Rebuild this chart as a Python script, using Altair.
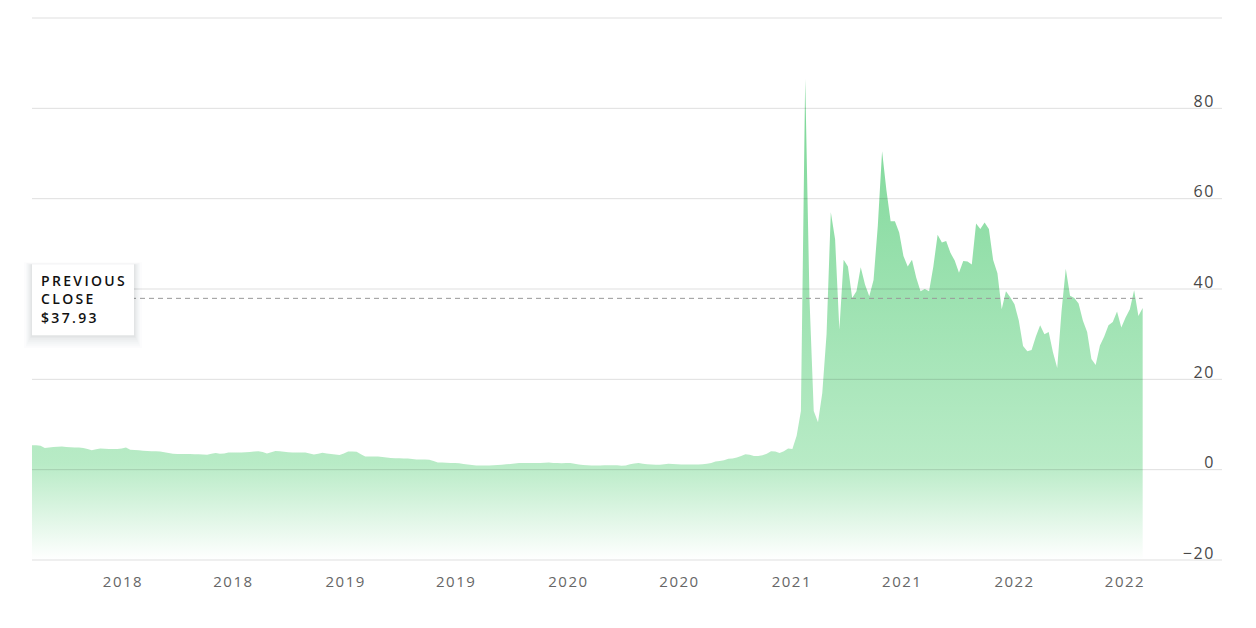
import altair as alt
import pandas as pd

# weekly closing values (split-adjusted $)
values = [
    5.4, 5.4, 5.3, 4.8, 4.9, 5.0, 5.1, 5.15, 5.0, 4.95,
    4.9, 4.9, 4.8, 4.6, 4.3, 4.5, 4.7, 4.65, 4.6, 4.6,
    4.6, 4.7, 4.9, 4.4, 4.35, 4.3, 4.2, 4.15, 4.1, 4.05,
    4.0, 3.85, 3.7, 3.55, 3.45, 3.45, 3.45, 3.45, 3.4, 3.4,
    3.35, 3.3, 3.5, 3.7, 3.5, 3.6, 3.8, 3.8, 3.8, 3.8,
    3.85, 3.9, 4.0, 4.1, 3.9, 3.6, 3.85, 4.15, 4.1, 3.95,
    3.85, 3.8, 3.8, 3.8, 3.8, 3.6, 3.35, 3.5, 3.75, 3.6,
    3.45, 3.35, 3.25, 3.6, 4.0, 4.0, 3.95, 3.4, 2.9, 2.9,
    2.9, 2.9, 2.8, 2.7, 2.6, 2.55, 2.55, 2.5, 2.5, 2.35,
    2.25, 2.25, 2.25, 2.2, 1.9, 1.6, 1.6, 1.55, 1.5, 1.5,
    1.4, 1.25, 1.15, 1.05, 0.95, 0.9, 0.9, 0.95, 1.0, 1.05,
    1.1, 1.2, 1.25, 1.35, 1.45, 1.5, 1.45, 1.45, 1.45, 1.5,
    1.55, 1.6, 1.5, 1.45, 1.4, 1.5, 1.45, 1.3, 1.15, 1.05,
    1.0, 0.95, 0.9, 0.95, 1.0, 1.0, 1.0, 1.0, 0.85, 0.9,
    1.2, 1.35, 1.45, 1.3, 1.2, 1.15, 1.1, 1.1, 1.2, 1.3,
    1.25, 1.2, 1.15, 1.15, 1.15, 1.15, 1.15, 1.2, 1.3, 1.5,
    1.8, 1.9, 2.1, 2.4, 2.5, 2.7, 3.0, 3.4, 3.3, 3.05,
    3.0, 3.2, 3.5, 4.1, 4.0, 3.7, 4.1, 4.7, 4.6, 7.5,
    13.0, 86.5, 38.0, 13.0, 10.5, 17.0, 30.0, 57.0, 51.0, 31.0,
    46.5, 45.0, 38.0, 39.5, 44.8, 41.0, 38.4, 42.0, 54.0, 70.5,
    62.0, 55.0, 55.0, 52.5, 47.3, 45.0, 46.5, 42.5, 39.5, 40.0,
    39.5, 45.0, 52.0, 50.3, 50.6, 48.0, 46.3, 43.6, 46.2, 46.1,
    45.4, 54.5, 53.3, 54.7, 53.3, 46.4, 43.5, 35.5, 39.5, 38.2,
    36.6, 33.0, 27.4, 26.2, 26.5, 29.5, 32.0, 30.0, 30.5, 26.0,
    22.5, 35.0, 44.5, 38.5, 38.0, 36.8, 33.0, 30.5, 24.5, 23.2,
    27.5, 29.5, 32.0, 32.7, 35.0, 31.5, 33.7, 35.5, 39.7, 34.0, 35.8,
]
dates = pd.date_range("2017-08-07", periods=len(values), freq="7D").strftime("%Y-%m-%d").tolist()

prev_close = 37.93
box_lines = ["PREVIOUS", "CLOSE", "$37.93"]
y_ticks = [-20, 0, 20, 40, 60, 80, 100]
x_tick_dates = ["2018-01-01", "2018-07-01", "2019-01-01", "2019-07-01", "2020-01-01",
                "2020-07-01", "2021-01-01", "2021-07-01", "2022-01-01", "2022-07-01"]
x_domain = ["2017-08-07", "2022-12-09"]

SP = "\u2009"   # thin space, used as letter spacing in the box
HSP = "\u200a"  # hair space, used as letter spacing in axis labels


def spaced(s):
    return SP.join(s)


def dt(s):
    y, m, d = (int(p) for p in s.split("-"))
    return alt.DateTime(year=y, month=m, date=d, utc=True)


df = pd.DataFrame({"date": dates, "price": values})
grid_df = pd.DataFrame({"price": y_ticks})

x_scale = alt.Scale(type="utc", domain=[dt(d) for d in x_domain])
y_scale = alt.Scale(domain=[-20, 100], nice=False, zero=False)

space_expr = "replace(datum.label, regexp('(.)(?=.)', 'g'), '$1" + HSP + "')"

x_axis = alt.Axis(
    values=[dt(d) for d in x_tick_dates], format="%Y", labelExpr=space_expr,
    grid=False, ticks=False, domain=False, labelPadding=14, title="",
    labelFont="Open Sans", labelFontSize=15, labelColor="#666666",
)
y_axis = alt.Axis(
    orient="right", values=y_ticks,
    labelExpr="datum.value == 100 ? '' : " + space_expr,
    grid=False, ticks=False, domain=False, tickSize=0, labelPadding=-9,
    labelAlign="right", labelBaseline="alphabetic", labelOffset=-2, title="",
    labelFont="Open Sans", labelFontSize=16, labelColor="#484848",
)

gradient = alt.Gradient(
    gradient="linear",
    stops=[
        alt.GradientStop(color="#79d695", offset=0),
        alt.GradientStop(color="#b8ebc6", offset=0.8),
        alt.GradientStop(color="#ffffff", offset=1),
    ],
    x1=1, x2=1, y1=0, y2=1,
)

area = alt.Chart(df).mark_area(color=gradient, interpolate="linear").encode(
    x=alt.X("date:T", scale=x_scale, axis=x_axis),
    y=alt.Y("price:Q", scale=y_scale, axis=y_axis),
    y2=alt.Y2(datum=-20),
)

grid = alt.Chart(grid_df).mark_rule(color="#000000", opacity=0.13, strokeWidth=1).encode(
    y=alt.Y("price:Q", scale=y_scale, axis=y_axis),
)

dashed = alt.Chart(df).mark_rule(color="#999999", strokeDash=[5, 4], strokeWidth=1).encode(
    x=alt.X("min(date):T"),
    x2=alt.X2("max(date)"),
    y=alt.Y(datum=prev_close),
)


def box_rect(color, opacity, x0, x1, y0, y1):
    return alt.Chart(df).mark_rect(
        color=color, opacity=opacity, xOffset=x0, x2Offset=x1, yOffset=y0, y2Offset=y1
    ).encode(
        x=alt.X("min(date):T"),
        x2=alt.X2("min(date)"),
        y=alt.Y(datum=prev_close),
        y2=alt.Y2(datum=prev_close),
    )


# soft drop shadow made of faint stacked rectangles, then the white card
shadows = [
    box_rect("#1a2030", 0.012, -8, 110, -36, 50),
    box_rect("#1a2030", 0.014, -6, 108, -35, 48),
    box_rect("#1a2030", 0.016, -5, 107, -35, 46),
    box_rect("#1a2030", 0.018, -4, 106, -34, 44),
    box_rect("#1a2030", 0.02, -3, 105, -34, 42),
    box_rect("#1a2030", 0.022, -2, 104, -34, 40),
    box_rect("#1a2030", 0.025, -1, 103, -34, 39),
]
box = box_rect("#ffffff", 1, 0, 102, -34, 37)


def box_text(s, dy):
    return alt.Chart(df).mark_text(
        align="left", baseline="alphabetic", dx=9, dy=dy,
        font="Open Sans", fontSize=14, fontWeight=600, color="#111111",
    ).encode(
        x=alt.X("min(date):T"),
        y=alt.Y(datum=prev_close),
        text=alt.value(spaced(s)),
    )


texts = [box_text(box_lines[0], -12), box_text(box_lines[1], 6), box_text(box_lines[2], 25)]

chart = alt.layer(area, grid, dashed, *shadows, box, *texts).properties(
    width=1190,
    height=542,
    padding={"left": 24, "top": 10, "right": 26, "bottom": 60},
    autosize=alt.AutoSizeParams(type="none"),
    background="#ffffff",
).configure_view(stroke=None)

chart.save("out.html", embed_options={"renderer": "svg", "actions": False})
